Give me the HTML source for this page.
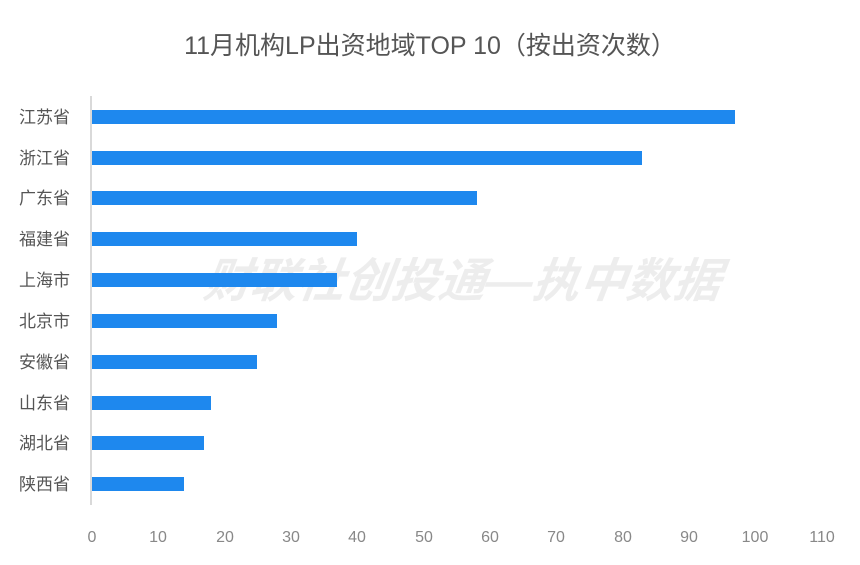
<!DOCTYPE html>
<html><head><meta charset="utf-8"><style>
body{margin:0;background:#fff;}
svg text{font-family:"Liberation Sans","Noto Sans CJK SC",sans-serif;}
</style></head><body>
<svg width="860" height="560" xmlns="http://www.w3.org/2000/svg">
<rect width="860" height="560" fill="#fff"/>
<text x="430" y="54" text-anchor="middle" font-size="25" fill="#555">11月机构LP出资地域TOP 10（按出资次数）</text>
<text x="462" y="297" text-anchor="middle" font-size="47" font-weight="bold" font-style="italic" fill="#000" fill-opacity="0.07" transform="skewX(-8) translate(40,0)">财联社创投通—执中数据</text>
<line x1="91" y1="96" x2="91" y2="505" stroke="#d9d9d9" stroke-width="2"/>
<g fill="#1e88ee">
<rect x="92" y="110" width="643" height="14"/>
<rect x="92" y="151" width="550" height="14"/>
<rect x="92" y="191" width="385" height="14"/>
<rect x="92" y="232" width="265" height="14"/>
<rect x="92" y="273" width="245" height="14"/>
<rect x="92" y="314" width="185" height="14"/>
<rect x="92" y="355" width="165" height="14"/>
<rect x="92" y="396" width="119" height="14"/>
<rect x="92" y="436" width="112" height="14"/>
<rect x="92" y="477" width="92" height="14"/>
</g>
<g font-size="17" fill="#555" text-anchor="end">
<text x="70" y="123">江苏省</text>
<text x="70" y="164">浙江省</text>
<text x="70" y="204">广东省</text>
<text x="70" y="245">福建省</text>
<text x="70" y="286">上海市</text>
<text x="70" y="327">北京市</text>
<text x="70" y="368">安徽省</text>
<text x="70" y="409">山东省</text>
<text x="70" y="449">湖北省</text>
<text x="70" y="490">陕西省</text>
</g>
<g font-size="16" fill="#888" text-anchor="middle">
<text x="92" y="542">0</text>
<text x="158" y="542">10</text>
<text x="225" y="542">20</text>
<text x="291" y="542">30</text>
<text x="357" y="542">40</text>
<text x="424" y="542">50</text>
<text x="490" y="542">60</text>
<text x="556" y="542">70</text>
<text x="623" y="542">80</text>
<text x="689" y="542">90</text>
<text x="755" y="542">100</text>
<text x="822" y="542">110</text>
</g>
</svg>
</body></html>
